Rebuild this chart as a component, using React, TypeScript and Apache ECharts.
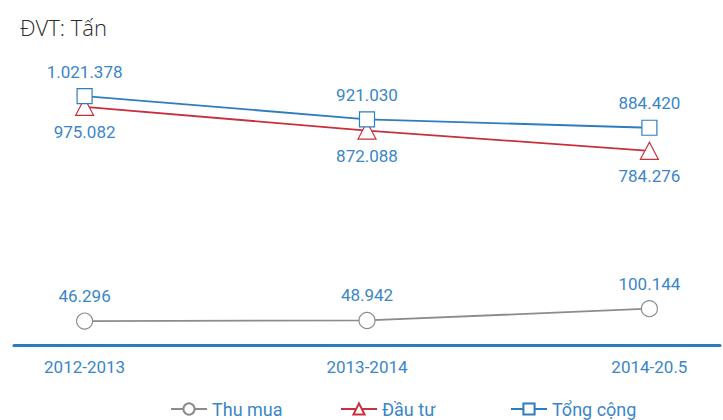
import React, { useEffect, useRef } from "react";
import * as echarts from "echarts";

const categories = ["2012-2013", "2013-2014", "2014-20.5"];
const thuMua = [46296, 48942, 100144];
const dauTu = [975082, 872088, 784276];
const tongCong = [1021378, 921030, 884420];
const seriesNames = ["Thu mua", "Đầu tư", "Tổng cộng"];

const FONT = "Roboto, 'Noto Sans', sans-serif";
const LABEL_BLUE = "#3a86c8";
const LEGEND_LEFTS = [165, 335, 505];

const fmt = (v: number) => String(v).replace(/\B(?=(\d{3})+(?!\d))/g, ".");

export default function App() {
  const ref = useRef<HTMLDivElement>(null);
  useEffect(() => {
    if (!ref.current) return;
    const chart = echarts.init(ref.current, undefined, { renderer: "svg" });
    const toPairs = (arr: number[]) => arr.map((v, i) => [i, v]);
    const labelStyle = (pos: string, dist: number) => ({
      show: true,
      position: pos,
      distance: dist,
      color: LABEL_BLUE,
      fontFamily: FONT,
      fontSize: 17,
      formatter: (p: any) => fmt(p.value[1]),
    });
    chart.setOption({
      animation: false,
      backgroundColor: "#ffffff",
      title: {
        text: "ĐVT: Tấn",
        left: 15,
        top: 11,
        textStyle: { fontFamily: "'Open Sans', 'Noto Sans', sans-serif", fontWeight: 300, fontSize: 22, color: "#2a2a2a" },
      },
      grid: { left: 14, right: 0, top: 78, bottom: 74.4 },
      xAxis: {
        type: "value",
        min: -0.25,
        max: 2.25,
        interval: 0.25,
        axisLine: { show: true, onZero: false, lineStyle: { color: "#2b7bbd", width: 3 } },
        axisTick: { show: false },
        splitLine: { show: false },
        axisLabel: {
          color: LABEL_BLUE,
          fontFamily: FONT,
          fontSize: 17,
          margin: 13,
          showMinLabel: true,
          showMaxLabel: true,
          formatter: (v: number) => {
            const r = Math.round(v);
            return Math.abs(v - r) < 1e-6 && r >= 0 && r < categories.length ? categories[r] : "";
          },
        },
      },
      yAxis: { type: "value", min: -60000, max: 1100000, show: false },
      legend: seriesNames.map((name, i) => ({
        top: 395,
        left: LEGEND_LEFTS[i],
        itemWidth: 36,
        itemHeight: 14,
        textStyle: { color: LABEL_BLUE, fontFamily: FONT, fontSize: 18 },
        data: [name],
      })),
      series: [
        {
          name: seriesNames[0],
          type: "line",
          data: toPairs(thuMua),
          symbol: "circle",
          symbolSize: 16,
          lineStyle: { color: "#8c8c8c", width: 1.8 },
          itemStyle: { color: "#ffffff", borderColor: "#8c8c8c", borderWidth: 1.2 },
          label: labelStyle("top", 8),
          z: 3,
        },
        {
          name: seriesNames[1],
          type: "line",
          data: toPairs(dauTu),
          symbol: "triangle",
          symbolSize: [18, 17],
          lineStyle: { color: "#c9303e", width: 1.8 },
          itemStyle: { color: "#ffffff", borderColor: "#c9303e", borderWidth: 1.2 },
          label: labelStyle("bottom", 8),
          z: 4,
        },
        {
          name: seriesNames[2],
          type: "line",
          data: toPairs(tongCong),
          symbol: "rect",
          symbolSize: 15,
          lineStyle: { color: "#2e7dbf", width: 1.8 },
          itemStyle: { color: "#ffffff", borderColor: "#2e7dbf", borderWidth: 1.2 },
          label: labelStyle("top", 8),
          z: 5,
        },
      ],
    });
    return () => chart.dispose();
  }, []);
  return <div ref={ref} style={{ position: "fixed", left: 0, top: 0, width: 723, height: 420 }} />;
}
